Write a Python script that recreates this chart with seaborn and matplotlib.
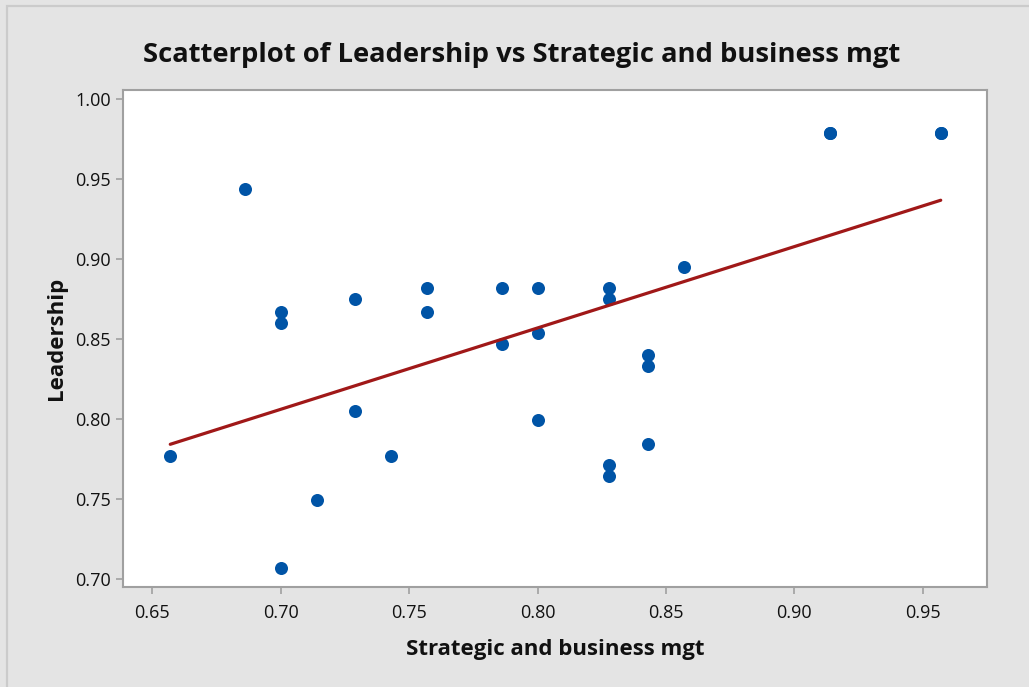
import seaborn as sns
import matplotlib.pyplot as plt
import pandas as pd
from matplotlib.patches import Rectangle

# values (the two top points hold two cases each)
strategic = [0.657, 0.686, 0.700, 0.700, 0.700, 0.714, 0.729, 0.729, 0.743,
             0.757, 0.757, 0.786, 0.786, 0.800, 0.800, 0.800, 0.828, 0.828,
             0.828, 0.828, 0.843, 0.843, 0.843, 0.857, 0.914, 0.914, 0.957, 0.957]
leadership = [0.777, 0.944, 0.867, 0.860, 0.707, 0.749, 0.875, 0.805, 0.777,
              0.882, 0.867, 0.882, 0.847, 0.882, 0.854, 0.799, 0.882, 0.875,
              0.771, 0.764, 0.840, 0.833, 0.784, 0.895, 0.979, 0.979, 0.979, 0.979]
x_ticks = [0.65, 0.70, 0.75, 0.80, 0.85, 0.90, 0.95]
y_ticks = [0.70, 0.75, 0.80, 0.85, 0.90, 0.95, 1.00]

df = pd.DataFrame({'Strategic and business mgt': strategic, 'Leadership': leadership})

sns.set_theme(style='white')
plt.rcParams['font.family'] = ['Open Sans', 'DejaVu Sans']

fig = plt.figure(figsize=(10.29, 6.87), dpi=100, facecolor='#e4e4e4')
# thin outer frame of the graph window
fig.patches.append(Rectangle((7 / 1029, -0.1), 1.2, 1 - 6 / 687 + 0.1, transform=fig.transFigure,
                             fill=False, edgecolor='#cbcbcb', linewidth=1.6))
ax = fig.add_axes([0.1198, 0.1451, 0.8391, 0.7239])
ax.set_facecolor('white')

# scatter + least squares line
sns.regplot(data=df, x='Strategic and business mgt', y='Leadership', ax=ax, ci=None,
            scatter_kws={'s': 88, 'color': '#0054a6', 'linewidths': 0, 'alpha': 1},
            line_kws={'color': '#a01818', 'linewidth': 2.3})

ax.set_xlim(0.6387, 0.9749)
ax.set_ylim(0.6946, 1.0058)
ax.set_xticks(x_ticks)
ax.set_yticks(y_ticks)
ax.set_xticklabels([f'{v:.2f}' for v in x_ticks])
ax.set_yticklabels([f'{v:.2f}' for v in y_ticks])
ax.tick_params(axis='both', which='both', direction='out', length=5, width=1.2,
               color='#a0a0a0', labelsize=13, labelcolor='#111111',
               bottom=True, left=True)
ax.tick_params(axis='x', pad=7)
ax.tick_params(axis='y', pad=4)
for s in ax.spines.values():
    s.set_color('#a0a0a0')
    s.set_linewidth(1.5)

ax.set_xlabel('Strategic and business mgt', fontsize=16, fontweight='bold',
              color='#111111', labelpad=12)
ax.set_ylabel('Leadership', fontsize=16, fontweight='bold', color='#111111', labelpad=6)
fig.text(0.507, 1 - 62 / 687, 'Scatterplot of Leadership vs Strategic and business mgt',
         fontsize=19.7, fontweight='bold', color='#111111', ha='center', va='baseline')

fig.savefig('out.png', dpi=100, facecolor=fig.get_facecolor())
